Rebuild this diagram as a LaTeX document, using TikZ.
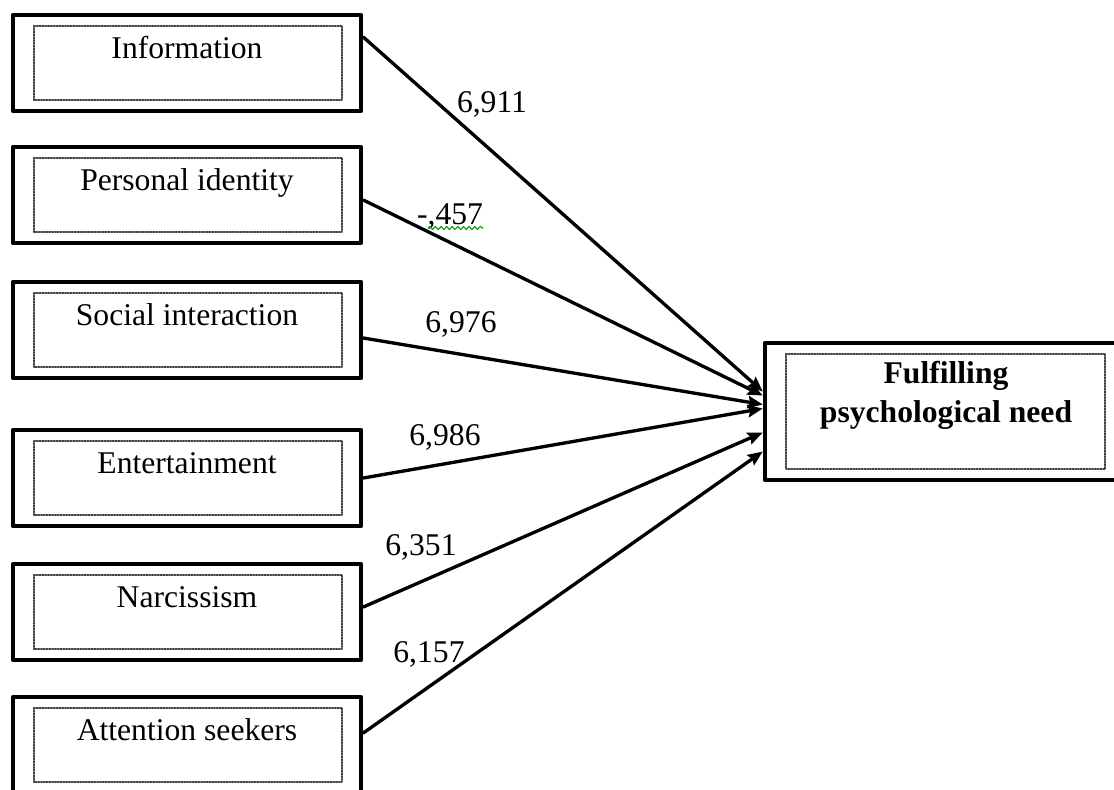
\documentclass[tikz,border=0pt]{standalone}
\usepackage{fontspec}
\setmainfont{Liberation Serif}
\usetikzlibrary{arrows.meta,decorations.pathmorphing}
\begin{document}
\begin{tikzpicture}[x=0.02cm, y=-0.02cm, font=\fontsize{18}{22.2}\selectfont, line join=round, line cap=round,
    >={Stealth[length=8.5pt,width=7pt,inset=1.2pt]},
    srcbox/.style={draw, line width=2.6pt, line cap=butt, minimum width=6.96cm, minimum height=1.92cm,
        text height=0.42cm, text depth=0.62cm, inner sep=0pt},
    needbox/.style={draw, line width=2.6pt, line cap=butt, minimum width=7.24cm, minimum height=2.74cm,
        text height=1.2cm, text depth=0.78cm, inner sep=0pt, align=center, font=\fontsize{18}{22.2}\selectfont\bfseries},
    dotbox/.style={line width=1pt, black!75, dash pattern=on 0.8pt off 0.8pt},
    path/.style={->, line width=1.9pt},
    coef/.style={anchor=base}]
    \useasboundingbox (0,0) rectangle (1114,789);
    \foreach \n/\y/\t in {info/63/Information, ident/195/Personal identity, soc/330/Social interaction,
        ent/478/Entertainment, narc/612/Narcissism, att/745/Attention seekers}{
        \node[srcbox] (\n) at (187,\y) {\t};
        \draw[dotbox] ([shift={(23,13)}]\n.north west) rectangle ([shift={(-21,-13)}]\n.south east);
    }
    \node[needbox] (need) at (946,411.5) {Fulfilling\\psychological need};
    \draw[dotbox] ([shift={(23,13)}]need.north west) rectangle ([shift={(-24,-13)}]need.south east);
    \foreach \n/\a/\b in {info/-26/-20, ident/5/-16, soc/8/-7, ent/0/-3, narc/-5/21, att/-12/40}
        \draw[path] ([shift={(0,\a)}]\n.east) -- ([shift={(0,\b)}]need.west);
    \node[coef] (c-info) at (492,112) {6,911};
    \node[coef] (c-ident) at (450,224) {-,457};
    \node[coef] (c-soc) at (461,332) {6,976};
    \node[coef] (c-ent) at (445,445) {6,986};
    \node[coef] (c-narc) at (421,555) {6,351};
    \node[coef] (c-att) at (429,662) {6,157};
    \draw[green!60!black, line width=0.6pt, decorate, decoration={snake, amplitude=0.9pt, segment length=3.2pt}]
        ([shift={(-22,4)}]c-ident.base) -- ([shift={(33,4)}]c-ident.base);
\end{tikzpicture}
\end{document}
